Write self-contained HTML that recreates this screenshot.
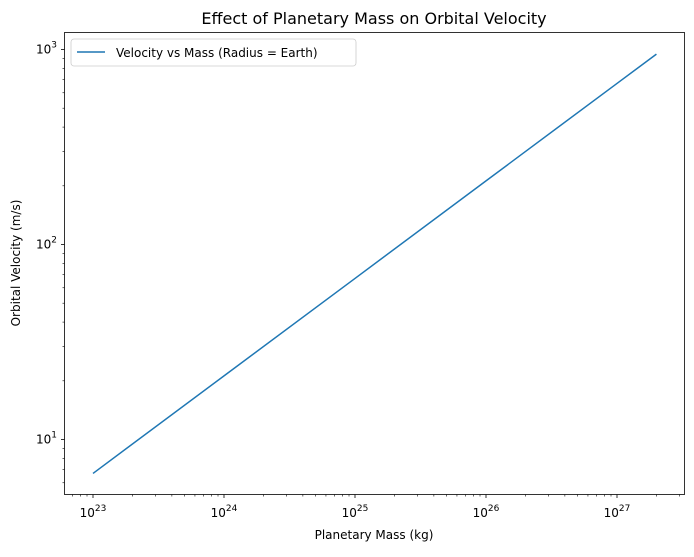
<!DOCTYPE html>
<html><head><meta charset="utf-8"><style>
body{margin:0;background:#fff;font-family:"Liberation Sans","DejaVu Sans",sans-serif;}
svg text{font-family:"DejaVu Sans","Liberation Sans",sans-serif;fill:#000;}
</style></head><body>
<svg id="chart" width="694" height="552" viewBox="0 0 694 552"></svg>
<script>
const masses = [1e23, 1e24, 1e25, 1e26, 1e27, 2e27];
const velocities = [6.7, 21.2, 67, 212, 670, 947];
const xTickExps = [23, 24, 25, 26, 27];
const yTickExps = [1, 2, 3];

const L=64.5, R=684.5, T=32.5, B=494.5;
const xs = v => 93 + (Math.log10(v) - 23) * 131;
const ys = v => 439.5 - (Math.log10(v) - 1) * 195;
const svg = document.getElementById('chart');
const NS='http://www.w3.org/2000/svg';
function mk(tag, attrs, parent){const e=document.createElementNS(NS,tag);for(const k in attrs)e.setAttribute(k,attrs[k]);(parent||svg).appendChild(e);return e;}

const title=mk('text',{x:374,y:24,'text-anchor':'middle','font-size':16});
title.textContent='Effect of Planetary Mass on Orbital Velocity';



// x ticks
for(let e=22;e<=27;e++){for(let m=1;m<10;m++){const x=xs(m*Math.pow(10,e));if(x<L||x>R)continue;
 const major=m===1;
 const t=mk('line',{x1:x,x2:x,y1:B,y2:B+(major?3.5:2),stroke:'#000','stroke-width':major?0.8:0.6});
 
 }}
xTickExps.forEach(e=>{const x=xs(Math.pow(10,e));
 const t=mk('text',{x:x,y:517,'text-anchor':'middle','font-size':12});
 t.innerHTML='10<tspan dy="-6" font-size="9">'+e+'</tspan>';
 
 });
// y ticks
for(let e=0;e<=3;e++){for(let m=1;m<10;m++){const y=ys(m*Math.pow(10,e));if(y<T||y>B)continue;
 const major=m===1;
 const t=mk('line',{x1:L,x2:L-(major?3.5:2),y1:y,y2:y,stroke:'#000','stroke-width':major?0.8:0.6});
 
 }}
yTickExps.forEach(e=>{const y=ys(Math.pow(10,e));
 const t=mk('text',{x:57,y:y+4,'text-anchor':'end','font-size':12});
 t.innerHTML='10<tspan dy="-6" font-size="9">'+e+'</tspan>';
 
 });

const xl=mk('text',{x:374,y:539,'text-anchor':'middle','font-size':12});
xl.textContent='Planetary Mass (kg)';


const yl=mk('text',{x:20,y:263,'text-anchor':'middle','font-size':12,transform:'rotate(-90 20 263)'});
yl.textContent='Orbital Velocity (m/s)';



const line=mk('polyline',{points:masses.map((m,i)=>xs(m)+','+ys(velocities[i])).join(' '),fill:'none',stroke:'#1f77b4','stroke-width':1.5});



const frame=mk('rect',{x:L,y:T,width:R-L,height:B-T,fill:'none',stroke:'#000','stroke-width':0.8});



const lg=mk('g',{});


mk('rect',{x:71,y:39,width:285,height:27,rx:3,fill:'#fff',stroke:'#ccc','stroke-width':0.8},lg);
mk('line',{x1:77,x2:105,y1:52,y2:52,stroke:'#1f77b4','stroke-width':1.5},lg);
const lt=mk('text',{x:116,y:57,'font-size':12},lg);
lt.textContent='Velocity vs Mass (Radius = Earth)';


</script>
</body></html>
